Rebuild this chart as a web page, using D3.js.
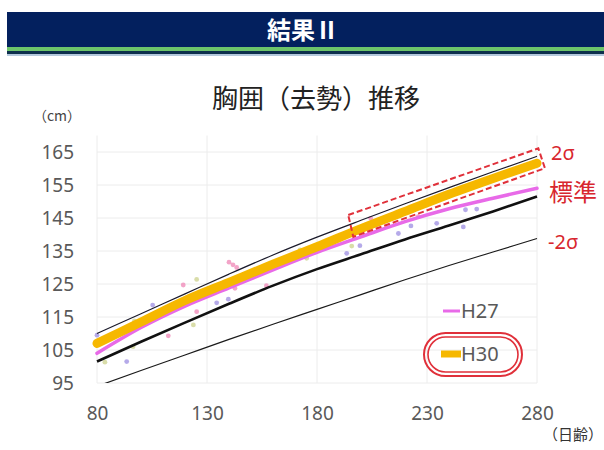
<!DOCTYPE html>
<html>
<head>
<meta charset="utf-8">
<script src="https://cdn.jsdelivr.net/npm/d3@7"></script>
<style>
  html, body { margin: 0; padding: 0; background: #fff; }
  svg { display: block; font-family: "Noto Sans CJK JP", "Noto Sans", sans-serif; }
</style>
</head>
<body>
<svg id="chart" width="604" height="450"></svg>
<script>
// --- data ---
const days = [80, 100, 120, 140, 160, 180, 200, 220, 240, 260, 280];
const plus2Sigma = [110, 116, 122, 128, 133.8, 139.2, 144.3, 149.3, 154.2, 159, 163.7];
const meanLine = [101.5, 107.5, 113.3, 119, 124.5, 129.5, 134, 138.5, 142.7, 147, 151.5];
const minus2Sigma = [94, 98.8, 103.5, 108.2, 112.8, 117.3, 121.8, 126.3, 130.6, 134.7, 138.8];
const h27 = [104, 111.8, 118.3, 123.8, 129.3, 134.6, 139.3, 143.9, 147.8, 151, 154];
const h30 = [107, 113.5, 120, 125.5, 131, 136.3, 141.8, 147, 152.2, 157, 161.6];

const pinkDays = [141.8, 140, 143.5, 119.2, 142.7, 112.4, 151, 157, 204.4, 226, 125.3];
const pinkValues = [130.8, 131.6, 130, 124.7, 123.7, 109.3, 127.2, 124.5, 144.9, 145.4, 116.6];
const purpleDays = [80, 93.5, 134.4, 139.7, 105.3, 193.5, 199.5, 217, 222.7, 234.4, 246.5, 247.5, 252.6];
const purpleValues = [109.5, 101.5, 119.3, 120.4, 118.6, 134.3, 136.6, 140.3, 142.6, 143.4, 142.3, 147.5, 147.7];
const paleDays = [125.3, 97, 96.4, 195.8, 172.3, 175.3, 123.8, 83.6];
const paleValues = [126.4, 113.8, 106, 136.5, 135.3, 132.8, 112.6, 101.3];

const xTicks = [80, 130, 180, 230, 280];
const yTicks = [95, 105, 115, 125, 135, 145, 155, 165];

// dashed highlight box corners, in (day, cm)
const boxDays = [194.2, 280.6, 283.6, 196.5];
const boxValues = [145.9, 166.1, 160.1, 139.3];

const svg = d3.select("#chart");
const W = 604, H = 450;

// --- header band ---
svg.append("rect").attr("x", 7).attr("y", 12).attr("width", W - 7).attr("height", 36).attr("fill", "#03205e");
svg.append("rect").attr("x", 7).attr("y", 47).attr("width", W - 7).attr("height", 4).attr("fill", "#6cc46a");
svg.append("rect").attr("x", 7).attr("y", 51).attr("width", W - 7).attr("height", 3).attr("fill", "#0d2f4c");
svg.append("rect").attr("x", 7).attr("y", 54).attr("width", W - 7).attr("height", 2).attr("fill", "#b4c8dc");
svg.append("text")
    .attr("x", 303).attr("y", 39)
    .attr("text-anchor", "middle")
    .attr("fill", "#fff")
    .attr("font-size", 24)
    .attr("font-weight", "bold")
    .text("結果Ⅱ");

// --- scales ---
const x = d3.scaleLinear().domain([80, 280]).range([97, 537]);
const y = d3.scaleLinear().domain([95, 170]).range([383, 135.5]);

// gridlines
const grid = svg.append("g");
grid.selectAll("line.h").data(yTicks).enter().append("line")
    .attr("x1", x(80)).attr("x2", x(280))
    .attr("y1", d => y(d)).attr("y2", d => y(d))
    .attr("stroke", "#ececec").attr("stroke-width", 1);
grid.selectAll("line.v").data(xTicks).enter().append("line")
    .attr("x1", d => x(d)).attr("x2", d => x(d))
    .attr("y1", y(170)).attr("y2", y(95))
    .attr("stroke", "#ececec").attr("stroke-width", 1);

// axes labels
const yAxis = d3.axisLeft(y).tickValues(yTicks).tickSize(0).tickPadding(23);
svg.append("g").attr("transform", `translate(${x(80)},0)`).call(yAxis)
    .call(g => g.select(".domain").remove())
    .selectAll("text").attr("font-size", 19).attr("fill", "#595959")
    .attr("font-family", "Noto Sans, sans-serif");

const xAxis = d3.axisBottom(x).tickValues(xTicks).tickSize(0).tickPadding(24);
svg.append("g").attr("transform", `translate(0,${y(95)})`).call(xAxis)
    .call(g => g.select(".domain").remove())
    .selectAll("text").attr("font-size", 19).attr("fill", "#595959")
    .attr("font-family", "Noto Sans, sans-serif");

// titles
svg.append("text").attr("x", 316).attr("y", 108).attr("text-anchor", "middle")
    .attr("font-size", 26).attr("fill", "#222").text("胸囲（去勢）推移");
svg.append("text").attr("x", 57).attr("y", 121).attr("text-anchor", "middle")
    .attr("font-size", 14).attr("fill", "#444").text("（cm）");
svg.append("text").attr("x", 603).attr("y", 440).attr("text-anchor", "end")
    .attr("font-size", 15).attr("fill", "#333").text("（日齢）");

// clip to plot area
svg.append("clipPath").attr("id", "plot")
    .append("rect").attr("x", x(80) - 6).attr("y", y(170)).attr("width", x(280) - x(80) + 12).attr("height", y(95) - y(170));

const plot = svg.append("g").attr("clip-path", "url(#plot)");

// scatter
function dots(ds, vs, color) {
    plot.append("g").selectAll("circle").data(ds).enter().append("circle")
        .attr("cx", d => x(d))
        .attr("cy", (d, i) => y(vs[i]))
        .attr("r", 2.4)
        .attr("fill", color)
        .attr("opacity", 0.75);
}
dots(pinkDays, pinkValues, "#ef86b6");
dots(purpleDays, purpleValues, "#9c8ee2");
dots(paleDays, paleValues, "#ccd28c");

const line = vals => d3.line()
    .x((d, i) => x(days[i]))
    .y(d => y(d))
    .curve(d3.curveMonotoneX)(vals);

plot.append("path").attr("d", line(minus2Sigma)).attr("fill", "none").attr("stroke", "#1a1a1a").attr("stroke-width", 1.2);
plot.append("path").attr("d", line(meanLine)).attr("fill", "none").attr("stroke", "#111").attr("stroke-width", 2.6);
plot.append("path").attr("d", line(h27)).attr("fill", "none").attr("stroke", "#e86ae8").attr("stroke-width", 3.5).attr("stroke-linecap", "round");
plot.append("path").attr("d", line(h30)).attr("fill", "none").attr("stroke", "#f6b800").attr("stroke-width", 9).attr("stroke-linecap", "round");
plot.append("path").attr("d", line(plus2Sigma)).attr("fill", "none").attr("stroke", "#1a1a2a").attr("stroke-width", 1.2);

// dashed highlight box
svg.append("polygon")
    .attr("points", boxDays.map((d, i) => [x(d), y(boxValues[i])].join(",")).join(" "))
    .attr("fill", "none").attr("stroke", "#e0303a").attr("stroke-width", 2)
    .attr("stroke-dasharray", "6,3");

// red side labels
const red = "#d8262e";
svg.append("text").attr("x", 551).attr("y", 160).attr("font-size", 20).attr("fill", red)
    .attr("font-family", "Noto Sans, sans-serif").text("2σ");
svg.append("text").attr("x", 549).attr("y", 201).attr("font-size", 24).attr("fill", red).text("標準");
svg.append("text").attr("x", 548).attr("y", 249).attr("font-size", 20).attr("fill", red)
    .attr("font-family", "Noto Sans, sans-serif").text("-2σ");

// legend
const lg = svg.append("g").attr("font-family", "Noto Sans, sans-serif");
lg.append("line").attr("x1", 443).attr("x2", 460).attr("y1", 311).attr("y2", 311)
    .attr("stroke", "#e86ae8").attr("stroke-width", 3);
lg.append("text").attr("x", 461).attr("y", 318).attr("font-size", 20).attr("fill", "#595959").text("H27");
lg.append("line").attr("x1", 441).attr("x2", 461).attr("y1", 354).attr("y2", 354)
    .attr("stroke", "#f6b800").attr("stroke-width", 7);
lg.append("text").attr("x", 461).attr("y", 361).attr("font-size", 20).attr("fill", "#595959").text("H30");
lg.append("rect").attr("x", 424).attr("y", 333).attr("width", 98).attr("height", 43).attr("rx", 21.5)
    .attr("fill", "none").attr("stroke", "#e0303a").attr("stroke-width", 2);
lg.append("rect").attr("x", 428).attr("y", 337).attr("width", 90).attr("height", 35).attr("rx", 17.5)
    .attr("fill", "none").attr("stroke", "#e0303a").attr("stroke-width", 1.6);
</script>
</body>
</html>
